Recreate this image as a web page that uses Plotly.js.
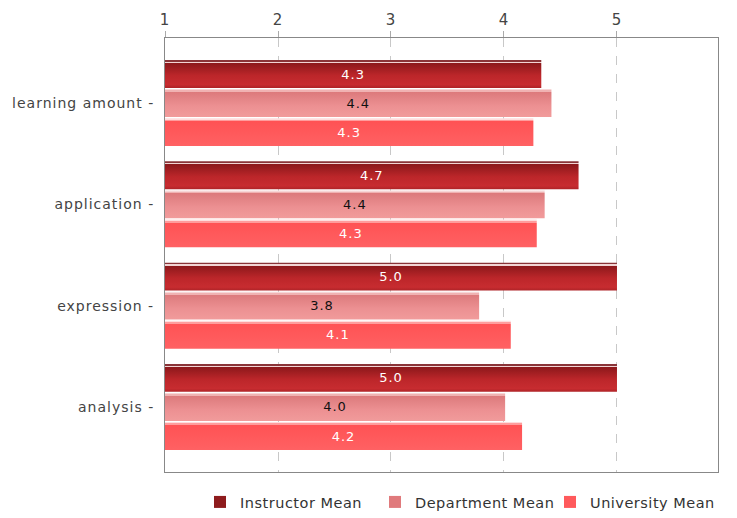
<!DOCTYPE html>
<html>
<head>
<meta charset="utf-8">
<script src="https://cdn.plot.ly/plotly-3.0.1.min.js"></script>
<style>
html,body{margin:0;padding:0;background:#fff;}
#chart{width:737px;height:518px;}
#chart text{letter-spacing:1px;}
#chart .legend text{letter-spacing:0.5px;}
#chart .barlayer .trace:nth-child(1) .point path{fill:url(#gradInstr) !important;}
#chart .barlayer .trace:nth-child(2) .point path{fill:url(#gradDept) !important;}
#chart .barlayer .trace:nth-child(3) .point path{fill:url(#gradUniv) !important;}
</style>
</head>
<body>
<svg width="0" height="0" style="position:absolute">
  <defs>
    <linearGradient id="gradInstr" x1="0" y1="0" x2="0" y2="1">
      <stop offset="0" stop-color="#8A3438"/>
      <stop offset="0.06" stop-color="#8A3438"/>
      <stop offset="0.06" stop-color="#F2D4D4"/>
      <stop offset="0.11" stop-color="#F2D4D4"/>
      <stop offset="0.11" stop-color="#8C181B"/>
      <stop offset="0.55" stop-color="#BC262A"/>
      <stop offset="0.88" stop-color="#C72C30"/>
      <stop offset="1" stop-color="#AE2327"/>
    </linearGradient>
    <linearGradient id="gradDept" x1="0" y1="0" x2="0" y2="1">
      <stop offset="0" stop-color="#F6D6D6"/>
      <stop offset="0.05" stop-color="#F6D6D6"/>
      <stop offset="0.05" stop-color="#F0B2B2"/>
      <stop offset="0.11" stop-color="#F0B2B2"/>
      <stop offset="0.11" stop-color="#DC7A7C"/>
      <stop offset="0.6" stop-color="#EC9092"/>
      <stop offset="1" stop-color="#F19B9B"/>
    </linearGradient>
    <linearGradient id="gradUniv" x1="0" y1="0" x2="0" y2="1">
      <stop offset="0" stop-color="#FFDCDC"/>
      <stop offset="0.05" stop-color="#FFDCDC"/>
      <stop offset="0.05" stop-color="#FF9C9C"/>
      <stop offset="0.11" stop-color="#FF9C9C"/>
      <stop offset="0.11" stop-color="#FF5254"/>
      <stop offset="1" stop-color="#FF6163"/>
    </linearGradient>
  </defs>
</svg>
<div id="chart"></div>
<script>
const categories = ["learning amount", "application", "expression", "analysis"];
const instructorMean = [4.33, 4.66, 5.0, 5.0];
const departmentMean = [4.42, 4.36, 3.78, 4.01];
const universityMean = [4.26, 4.29, 4.06, 4.16];
const seriesNames = ["Instructor Mean", "Department Mean", "University Mean"];
const xTicks = [1, 2, 3, 4, 5];

const AXIS_BASE = 1;
const colors = ["#8E1B1D", "#E07A7C", "#FF5A5C"];
const textColors = ["#ffffff", "#111111", "#ffffff"];
const allSeries = [instructorMean, departmentMean, universityMean];

const traces = allSeries.map((vals, i) => ({
  type: "bar",
  orientation: "h",
  name: seriesNames[i],
  y: categories,
  x: vals.map(v => v - AXIS_BASE),
  base: AXIS_BASE,
  text: vals.map(v => v.toFixed(1)),
  textposition: "inside",
  insidetextanchor: "middle",
  textangle: 0,
  constraintext: "none",
  textfont: {family: "DejaVu Sans, sans-serif", size: 13, color: textColors[i]},
  marker: {color: colors[i], line: {width: 0}},
  hoverinfo: "skip"
}));

const layout = {
  width: 737, height: 518,
  margin: {l: 165, r: 19, t: 38, b: 46},
  paper_bgcolor: "#ffffff",
  plot_bgcolor: "#ffffff",
  barmode: "group",
  bargap: 0.14,
  bargroupgap: 0.04,
  font: {family: "DejaVu Sans, sans-serif", color: "#444444"},
  showlegend: true,
  legend: {
    orientation: "h",
    xref: "container", yref: "container",
    x: 0.2714, xanchor: "left",
    y: 0.0, yanchor: "bottom",
    font: {size: 14.5, color: "#333333"},
    traceorder: "normal",
    itemwidth: 30,
    entrywidthmode: "pixels",
    entrywidth: 130
  },
  xaxis: {
    side: "top",
    range: [1, 5.894],
    tickvals: xTicks,
    ticktext: xTicks.map(String),
    tickfont: {size: 15, color: "#444444"},
    ticks: "outside",
    ticklen: 6,
    tickcolor: "#aaaaaa",
    showgrid: true,
    gridcolor: "#c8c8c8",
    griddash: "dash",
    gridwidth: 1,
    zeroline: false,
    showline: true,
    linecolor: "#888888",
    linewidth: 1,
    mirror: true,
    fixedrange: true
  },
  yaxis: {
    type: "category",
    categoryorder: "array",
    categoryarray: categories,
    range: [3.642, -0.642],
    tickfont: {size: 14, color: "#444444"},
    ticksuffix: " -",
    ticks: "",
    ticklabelstandoff: 7,
    showgrid: false,
    showline: true,
    linecolor: "#888888",
    linewidth: 1,
    mirror: true,
    fixedrange: true
  }
};

Plotly.newPlot("chart", traces, layout, {displayModeBar: false, staticPlot: true});
</script>
</body>
</html>
